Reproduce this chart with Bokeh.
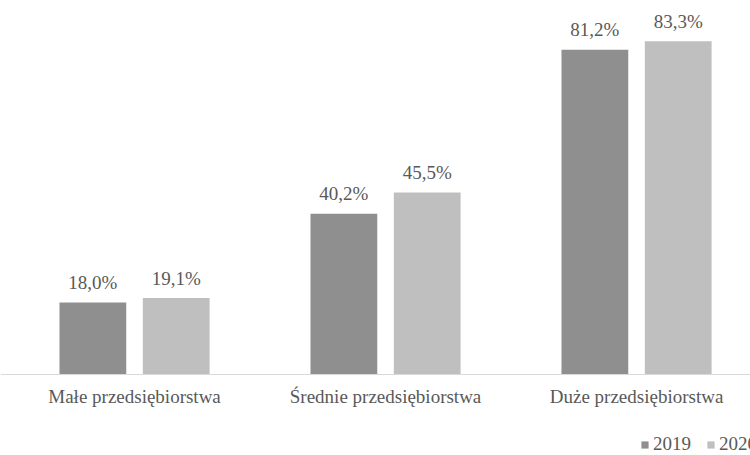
from bokeh.plotting import figure
from bokeh.models import ColumnDataSource, Range1d, Legend, LegendItem, Span
from bokeh.core.properties import value
from bokeh.embed import file_html
from bokeh.resources import INLINE

categories = ["Małe przedsiębiorstwa", "Średnie przedsiębiorstwa", "Duże przedsiębiorstwa"]
series_names = ["2019", "2020"]
values_2019 = [18.0, 40.2, 81.2]
values_2020 = [19.1, 45.5, 83.3]
colors = ["#8f8f8f", "#bfbfbf"]

FONT = "Liberation Serif"
TEXT_COLOR = "#595959"

xs = list(range(len(categories)))

p = figure(width=750, height=455, output_backend="svg", toolbar_location=None,
           x_range=Range1d(-0.534, 2.454), y_range=Range1d(-20.25, 93.5),
           min_border_left=0, min_border_right=0, min_border_top=0, min_border_bottom=0)
p.outline_line_color = None
p.background_fill_color = "white"
p.border_fill_color = "white"
p.xgrid.visible = False
p.ygrid.visible = False
p.xaxis.visible = False
p.yaxis.visible = False

p.add_layout(Span(location=0, dimension="width", line_color="#d9d9d9", line_width=1))

offsets = [-0.166, 0.166]
renderers = []
for vals, off, col, name in zip([values_2019, values_2020], offsets, colors, series_names):
    src = ColumnDataSource(dict(
        x=[x + off for x in xs], top=vals,
        label=[("%.1f" % v).replace(".", ",") + "%" for v in vals]))
    r = p.vbar(x="x", top="top", width=0.266, bottom=0, source=src,
               fill_color=col, line_color=None)
    renderers.append(r)
    p.text(x="x", y="top", text="label", source=src, text_align="center",
           text_baseline="alphabetic", y_offset=-20, text_font=value(FONT),
           text_font_size="19px", text_color=TEXT_COLOR)

cat_src = ColumnDataSource(dict(x=xs, y=[0] * len(xs), text=categories))
p.text(x="x", y="y", text="text", source=cat_src, text_align="center",
       text_baseline="alphabetic", y_offset=22, text_font=value(FONT),
       text_font_size="19px", text_color=TEXT_COLOR)

legend = Legend(items=[LegendItem(label=n, renderers=[r]) for n, r in zip(series_names, renderers)],
                orientation="horizontal", location=(640, 0),
                label_text_font=FONT, label_text_font_size="19px",
                label_text_color=TEXT_COLOR, glyph_width=9, glyph_height=9,
                label_standoff=4, spacing=15, padding=0, margin=0,
                border_line_color=None, background_fill_alpha=0,
                label_height=9, label_width=10)
p.add_layout(legend, "center")

open("out.html", "w").write(file_html(p, INLINE))
